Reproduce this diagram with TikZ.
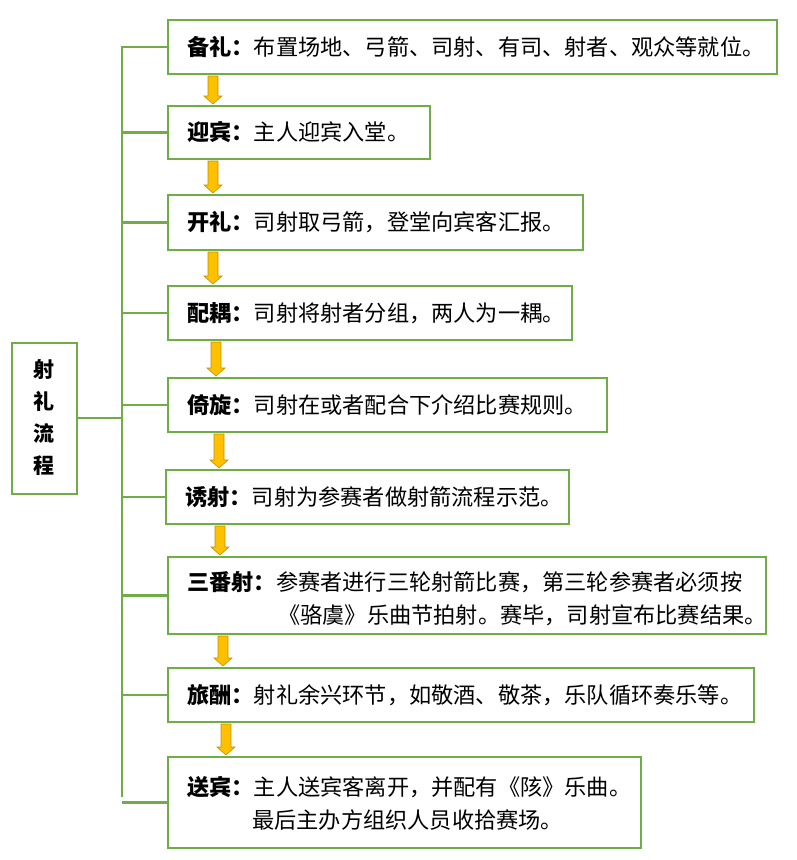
\documentclass[tikz,border=0pt]{standalone}
\usepackage{fontspec}
\newfontfamily\cjk{Noto Sans CJK SC}
\definecolor{gr}{RGB}{112,173,71}
\definecolor{gold}{RGB}{255,192,0}
\definecolor{goldd}{RGB}{191,144,0}
\begin{document}
\begin{tikzpicture}[x=1pt,y=-1pt,
  box/.style={draw=gr,line width=2.2pt,fill=white},
  ln/.style={draw=gr,line width=2.2pt},
  txt/.style={anchor=west,inner sep=0,font=\cjk\fontsize{22.2}{26}\selectfont},
  arr/.style={fill=gold,draw=goldd,line width=0.6pt}]
\useasboundingbox (0,0) rectangle (797,860);
\newcommand\bx[5]{% name x1 y1 x2 y2
  \path[box] (#2,#3) rectangle (#4,#5);
  \coordinate (#1w) at (#2,{(#3+#5)/2});
  \draw[ln] (122,{(#3+#5)/2}) -- (#1w);}
\newcommand\ar[3]{% x ytop ybot
  \path[arr] ({#1-5},#2) -- ({#1+5},#2) -- ({#1+5},{#3-8}) -- ({#1+9},{#3-8}) -- (#1,#3) -- ({#1-9},{#3-8}) -- ({#1-5},{#3-8}) -- cycle;}
\draw[ln] (122,46) -- (122,797);
\draw[ln] (77,418) -- (122,418);
\path[box] (12,343) rectangle (77,494);
\node[font=\cjk\bfseries\fontsize{21}{24}\selectfont,align=center] (L) at (44.5,418) {射\\[8pt]礼\\[8pt]流\\[8pt]程};
\bx{a}{168}{20}{777}{74}
\bx{b}{168}{106}{430}{159}
\bx{c}{168}{195}{583}{250}
\bx{d}{168}{286}{572}{340}
\bx{e}{168}{378}{607}{432}
\bx{f}{166}{470}{569}{524}
\bx{g}{168}{557}{766}{634}
\bx{h}{168}{668}{754}{722}
\bx{i}{168}{757}{641}{848}
\ar{213}{76}{104}
\ar{213}{161}{193}
\ar{213}{252}{284}
\ar{216}{342}{376}
\ar{219}{434}{468}
\ar{220}{526}{555}
\ar{223}{636}{666}
\ar{226}{724}{755}
\node[txt] (ta) at (187,47) {\textbf{备礼：}布置场地、弓箭、司射、有司、射者、观众等就位。};
\node[txt] (tb) at (187,132) {\textbf{迎宾：}主人迎宾入堂。};
\node[txt] (tc) at (187,222) {\textbf{开礼：}司射取弓箭，登堂向宾客汇报。};
\node[txt] (td) at (187,313) {\textbf{配耦：}司射将射者分组，两人为一耦。};
\node[txt] (te) at (187,405) {\textbf{倚旋：}司射在或者配合下介绍比赛规则。};
\node[txt] (tf) at (185,497) {\textbf{诱射：}司射为参赛者做射箭流程示范。};
\node[txt] (tg1) at (187,582) {\textbf{三番射：}参赛者进行三轮射箭比赛，第三轮参赛者必须按};
\node[txt] (tg2) at (278,615) {《骆虞》乐曲节拍射。赛毕，司射宣布比赛结果。};
\node[txt] (th) at (187,695) {\textbf{旅酬：}射礼余兴环节，如敬酒、敬茶，乐队循环奏乐等。};
\node[txt] (ti1) at (187,787) {\textbf{送宾：}主人送宾客离开，并配有《陔》乐曲。};
\node[txt] (ti2) at (252,820) {最后主办方组织人员收拾赛场。};
\end{tikzpicture}
\end{document}
